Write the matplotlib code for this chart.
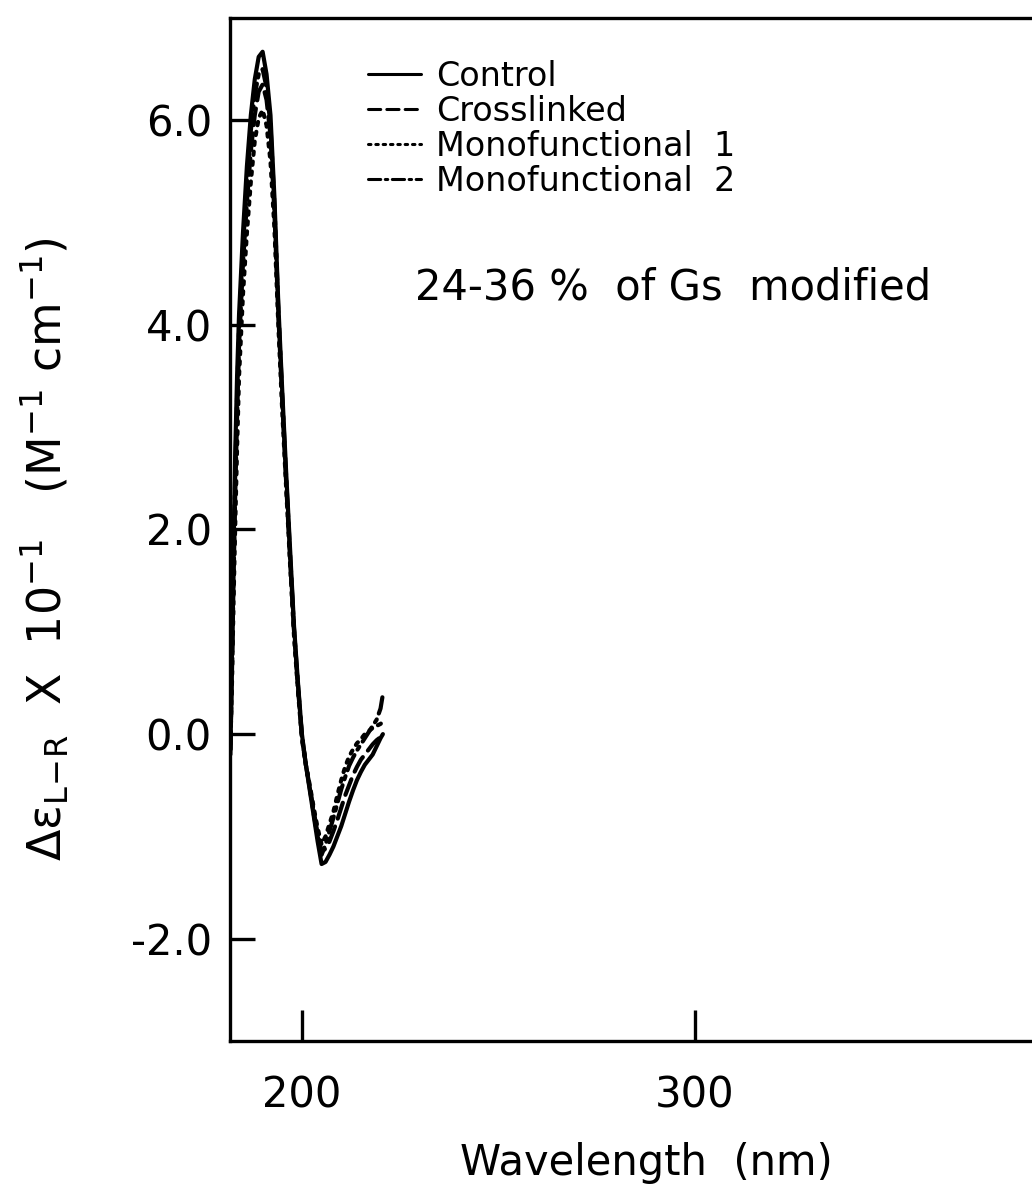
import numpy as np
import matplotlib
matplotlib.use("Agg")
import matplotlib.pyplot as plt

plt.rcParams['font.family'] = 'DejaVu Sans'
plt.rcParams['axes.unicode_minus'] = False
plt.rcParams['mathtext.default'] = 'regular'

# CD spectra, delta eps x 10^-1 vs wavelength (nm)
wavelength = [181.8, 182.2, 182.6, 183.0, 183.5, 184.0, 185.0, 186.0, 187.0, 188.0,
              189.0, 190.0, 191.0, 192.0, 193.0, 194.0, 195.0, 196.0, 197.0, 198.0,
              199.0, 200.0, 201.0, 202.0, 203.0, 204.0, 205.0, 206.0, 207.0, 208.0,
              209.0, 210.0, 211.0, 212.0, 213.0, 214.0, 215.0, 216.0, 217.0, 218.0,
              219.0, 220.0, 220.6]

control = [-0.2, 0.8, 1.8, 2.7, 3.5, 4.1, 4.9, 5.55, 6.05, 6.4,
           6.62, 6.67, 6.45, 6.05, 5.25, 4.2, 3.35, 2.55, 1.8, 1.05,
           0.5, 0.0, -0.3, -0.55, -0.8, -1.05, -1.27, -1.25, -1.18, -1.1,
           -1.0, -0.9, -0.78, -0.66, -0.55, -0.45, -0.37, -0.3, -0.25, -0.2,
           -0.12, -0.04, 0.0]

crosslinked = [-0.15, 0.6, 1.5, 2.3, 3.1, 3.8, 4.6, 5.2, 5.7, 6.05,
               6.28, 6.35, 6.2, 5.85, 5.1, 4.1, 3.25, 2.45, 1.7, 1.0,
               0.45, -0.02, -0.3, -0.52, -0.75, -0.98, -1.15, -1.12, -1.05, -0.95,
               -0.84, -0.72, -0.6, -0.5, -0.4, -0.32, -0.25, -0.2, -0.15, -0.1,
               -0.06, -0.03, -0.02]

mono1 = [-0.1, 0.5, 1.3, 2.0, 2.8, 3.5, 4.3, 4.9, 5.4, 5.8,
         6.02, 6.1, 5.95, 5.6, 4.95, 4.0, 3.15, 2.4, 1.65, 0.95,
         0.42, -0.05, -0.3, -0.5, -0.72, -0.92, -1.08, -1.0, -0.88, -0.76,
         -0.6, -0.45, -0.32, -0.22, -0.15, -0.09, -0.05, 0.0, 0.03, 0.06,
         0.08, 0.1, 0.12]

mono2 = [-0.15, 0.7, 1.6, 2.5, 3.3, 3.95, 4.75, 5.4, 5.9, 6.25,
         6.45, 6.5, 6.32, 5.95, 5.18, 4.15, 3.3, 2.5, 1.75, 1.02,
         0.48, -0.02, -0.3, -0.53, -0.78, -1.0, -1.18, -1.08, -0.95, -0.82,
         -0.68, -0.54, -0.42, -0.31, -0.23, -0.16, -0.1, -0.04, 0.02, 0.08,
         0.14, 0.25, 0.39]

labels = ['Control', 'Crosslinked', 'Monofunctional  1', 'Monofunctional  2']
styles = ['-', (0, (4, 2)), (0, (0.8, 1.6)), (0, (4, 1.5, 0.8, 1.5))]

fig = plt.figure(figsize=(10.32, 11.88), dpi=100)
ax = fig.add_axes([230 / 1032, 147 / 1188, 858 / 1032, 1023 / 1188])

for vals, lab, ls in zip([control, crosslinked, mono1, mono2], labels, styles):
    ax.plot(wavelength, vals, color='black', lw=3.0, ls=ls, label=lab,
            solid_capstyle='round', dash_capstyle='round')

ax.set_xlim(181.7, 400)
ax.set_ylim(-3.0, 7.0)
ax.set_xticks([200, 300])
ax.set_yticks([-2, 0, 2, 4, 6])
ax.set_yticklabels(['%.1f' % v for v in [-2, 0, 2, 4, 6]])

ax.spines['right'].set_visible(False)
for s in ['left', 'top', 'bottom']:
    ax.spines[s].set_linewidth(2.4)

ax.tick_params(axis='both', direction='in', width=2.4, labelsize=30)
ax.tick_params(axis='y', length=18, pad=13)
ax.tick_params(axis='x', length=22, pad=24)

leg = ax.legend(loc='upper left', bbox_to_anchor=(368 / 1032, 1 - 60 / 1188),
                bbox_transform=fig.transFigure, frameon=False, fontsize=24,
                handlelength=1.6, handletextpad=0.45, labelspacing=0.06,
                borderpad=0, borderaxespad=0)
for h in leg.get_lines():
    h.set_linewidth(2.2)

fig.text(415 / 1032, 1 - 288 / 1188, '24-36 %  of Gs  modified',
         fontsize=30, ha='left', va='center')

fig.text(646 / 1032, 1 - 1163 / 1188, 'Wavelength  (nm)', fontsize=30,
         ha='center', va='center')
fig.text(45 / 1032, 1 - 549 / 1188,
         r'$\Delta\epsilon_{L\!-\!R}$  X  10$^{-1}$   (M$^{-1}$ cm$^{-1}$)',
         fontsize=33, rotation=90, ha='center', va='center')

fig.savefig('out.png', dpi=100)
